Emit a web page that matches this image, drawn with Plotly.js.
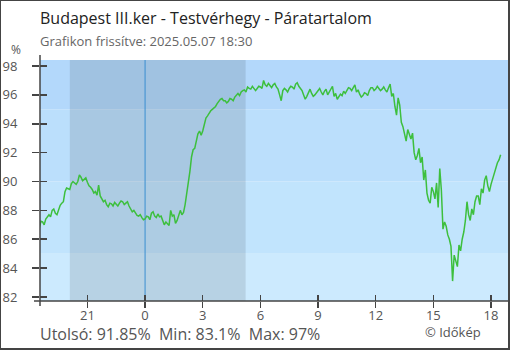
<!DOCTYPE html>
<html><head><meta charset="utf-8">
<script src="https://cdn.plot.ly/plotly-3.0.1.min.js"></script>
<style>
html,body{margin:0;padding:0;background:#fff;}
#wrap{position:relative;width:510px;height:350px;}
#chart{position:absolute;left:0;top:0;width:510px;height:350px;}
#frame{position:absolute;left:0;top:0;width:507px;height:347px;border-style:solid;border-color:#444;border-width:1px 2px 2px 1px;pointer-events:none;}
</style></head>
<body><div id="wrap"><div id="chart"></div><div id="frame"></div></div>
<script>
// ---- data (5-minute readings) ----
const startTime = '2025-05-06T18:30:00';
const stepMinutes = 5;
const humidity = [
86.8, 87.25, 87.2, 87.0, 87.4, 87.6, 87.7, 87.55, 88.0, 88.1,
87.8, 87.7, 88.1, 88.35, 88.5, 88.6, 89.3, 89.55, 89.5, 89.45,
89.85, 90.0, 89.9, 89.8, 90.0, 90.45, 90.3, 90.05, 90.15, 90.25,
89.95, 89.7, 89.6, 89.45, 89.2, 89.3, 89.05, 89.75, 89.0, 88.8,
88.6, 88.7, 88.4, 88.25, 88.5, 88.45, 88.3, 88.55, 88.45, 88.3,
88.5, 88.65, 88.6, 88.4, 88.5, 88.6, 88.3, 88.05, 87.9, 88.0,
87.8, 87.65, 87.6, 87.7, 87.5, 87.35, 87.4, 87.6, 87.55, 87.35,
87.8, 87.9, 87.6, 87.5, 87.75, 87.55, 87.6, 87.3, 87.0, 87.2,
87.1, 86.95, 88.0, 87.6, 87.7, 87.1, 87.3, 87.75, 88.0, 87.7,
87.85, 88.4, 89.1, 89.9, 90.7, 91.7, 92.2, 92.3, 92.8, 93.3,
93.5, 93.2, 93.5, 94.0, 94.4, 94.55, 94.75, 94.9, 95.0, 95.1,
95.2, 95.4, 95.6, 95.7, 95.75, 95.6, 95.6, 95.45, 95.55, 95.75,
95.7, 95.6, 95.85, 96.0, 96.1, 95.95, 96.2, 96.3, 96.35, 96.2,
96.55, 96.45, 96.4, 96.6, 96.45, 96.3, 96.45, 96.6, 96.55, 96.45,
97.0, 96.7, 96.6, 96.8, 96.65, 96.5, 96.7, 96.8, 96.55, 96.4,
96.0, 95.6, 96.3, 96.45, 96.35, 96.2, 96.45, 96.6, 96.55, 96.4,
96.75, 96.85, 96.6, 96.45, 96.3, 96.0, 95.7, 95.9, 96.2, 96.4,
96.1, 95.9, 96.0, 96.15, 96.3, 96.45, 96.2, 96.0, 96.25, 96.4,
96.0, 96.2, 96.45, 96.6, 95.9, 96.1, 95.7, 95.85, 96.05, 95.95,
96.25, 96.1, 96.35, 96.5, 96.45, 96.3, 96.5, 96.7, 96.2, 96.35,
96.05, 95.85, 95.95, 96.15, 96.1, 95.95, 96.3, 96.5, 96.5, 96.3,
96.4, 96.6, 96.45, 96.3, 96.4, 96.55, 96.35, 96.2, 96.5, 96.75,
95.9, 96.1, 95.2, 94.6, 95.8, 95.3, 94.1, 93.8, 93.3, 92.8,
93.6, 93.2, 92.95, 93.35, 92.0, 91.5, 91.8, 92.3, 91.3, 91.7,
90.1, 90.8, 89.2, 88.7, 88.5, 89.6, 89.3, 88.8, 89.9, 88.2,
90.9, 89.4, 86.7, 87.2, 86.9, 86.3, 86.0, 85.5, 83.1, 84.9,
84.5, 84.1, 85.6, 85.2, 86.0, 86.5, 87.3, 88.6, 87.7, 87.3,
88.1, 87.7, 88.6, 89.0, 89.0, 88.4, 89.5, 89.2, 90.1, 90.4,
89.7, 89.3, 89.8, 90.2, 90.6, 90.9, 91.3, 91.5, 91.85
];
const titleText = 'Budapest III.ker - Testvérhegy - Páratartalom';
const subtitleText = 'Grafikon frissítve: 2025.05.07 18:30';
const statsText = 'Utolsó: 91.85%  Min: 83.1%  Max: 97%';
const creditText = '© Időkép';
const unitText = '%';
const sunset = '2025-05-06 20:05';
const sunrise = '2025-05-07 05:14';
const midnight = '2025-05-07 00:00';
const xRange = ['2025-05-06 18:32', '2025-05-07 18:53'];
const yRange = [81.72, 98.42];
const bandEdges = [yRange[0], 85, 90, 95, yRange[1]];
const bandColors = ['#cceafe', '#c1e4fd', '#bbdffc', '#b3d8fb'];

// ---- build ----
const pad = n => String(n).padStart(2, '0');
const t0 = new Date(startTime);
const times = humidity.map((_, i) => {
  const d = new Date(t0.getTime() + i * stepMinutes * 60000);
  return d.getFullYear() + '-' + pad(d.getMonth() + 1) + '-' + pad(d.getDate()) + ' ' + pad(d.getHours()) + ':' + pad(d.getMinutes());
});

const W = 510, H = 350, L = 40, R = 2, T = 60, B = 49;
const pw = W - L - R, ph = H - T - B;
const px = x => (x - L) / pw;
const py = y => (H - B - y) / ph;
const font = 'Open Sans, Noto Sans, sans-serif';

const shapes = [];
for (let i = 0; i < bandColors.length; i++) {
  shapes.push({type: 'rect', layer: 'below', xref: 'paper', x0: 0, x1: 1, yref: 'y', y0: bandEdges[i], y1: bandEdges[i + 1], fillcolor: bandColors[i], line: {width: 0}});
}
shapes.push({type: 'rect', layer: 'below', xref: 'x', x0: sunset, x1: sunrise, yref: 'paper', y0: 0, y1: 1, fillcolor: 'rgba(0,0,0,0.1)', line: {width: 0}});
shapes.push({type: 'line', layer: 'below', xref: 'x', x0: midnight, x1: midnight, yref: 'paper', y0: 0, y1: 1, line: {color: '#3a8ed0', width: 1}});
shapes.push({type: 'line', layer: 'above', xref: 'paper', x0: 0, x1: 0, yref: 'paper', y0: py(306), y1: py(55), line: {color: '#444', width: 1.5}});
shapes.push({type: 'line', layer: 'above', xref: 'paper', x0: px(34), x1: 1, yref: 'paper', y0: 0, y1: 0, line: {color: '#444', width: 1.5}});

const traces = [
  {x: times, y: humidity, type: 'scatter', mode: 'lines', line: {color: '#3dbf3d', width: 1.5}, hoverinfo: 'x+y', showlegend: false},
  {x: [], y: [], xaxis: 'x2', yaxis: 'y2', type: 'scatter', mode: 'lines', showlegend: false, hoverinfo: 'skip'}
];

const tickFont = {family: font, size: 13, color: '#555'};
const layout = {
  width: W, height: H,
  margin: {l: L, r: R, t: T, b: B, pad: 0},
  paper_bgcolor: '#fff', plot_bgcolor: '#fff',
  showlegend: false,
  xaxis: {type: 'date', range: xRange, showgrid: false, zeroline: false, showline: false,
    ticks: 'outside', ticklen: 6, tickwidth: 1.5, tickcolor: '#444', ticklabelstandoff: -4,
    tick0: midnight, dtick: 3 * 3600000, tickformat: '%-H', tickfont: tickFont, fixedrange: true},
  yaxis: {range: yRange, showgrid: false, zeroline: false, showline: false,
    ticks: 'outside', ticklen: 7, tickwidth: 1.5, tickcolor: '#444',
    tick0: 82, dtick: 2, tickfont: tickFont, ticklabelstandoff: 12, fixedrange: true},
  xaxis2: {type: 'date', range: xRange, overlaying: 'x', anchor: 'y2', showgrid: false, zeroline: false, showline: false,
    ticks: 'inside', ticklen: 6, tickwidth: 1.5, tickcolor: '#444', tick0: midnight, dtick: 3 * 3600000, showticklabels: false},
  yaxis2: {range: yRange, overlaying: 'y', anchor: 'x2', showgrid: false, zeroline: false, showline: false,
    ticks: 'inside', ticklen: 7, tickwidth: 1.5, tickcolor: '#444', tick0: 82, dtick: 2, showticklabels: false},
  shapes: shapes,
  annotations: [
    {text: titleText, xref: 'paper', yref: 'paper', x: px(38), y: py(18), xanchor: 'left', yanchor: 'middle', showarrow: false, font: {family: font, size: 16, color: '#222'}},
    {text: subtitleText, xref: 'paper', yref: 'paper', x: px(38), y: py(41), xanchor: 'left', yanchor: 'middle', showarrow: false, font: {family: font, size: 13, color: '#666'}},
    {text: unitText, xref: 'paper', yref: 'paper', x: px(16), y: py(50), xanchor: 'center', yanchor: 'middle', showarrow: false, font: {family: font, size: 12, color: '#555'}},
    {text: statsText, xref: 'paper', yref: 'paper', x: px(38), y: py(334), xanchor: 'left', yanchor: 'middle', showarrow: false, font: {family: font, size: 16, color: '#555'}},
    {text: creditText, xref: 'paper', yref: 'paper', x: px(423), y: py(332), xanchor: 'left', yanchor: 'middle', showarrow: false, font: {family: font, size: 13, color: '#555'}}
  ]
};
Plotly.newPlot('chart', traces, layout, {staticPlot: true, displayModeBar: false});
</script></body></html>
